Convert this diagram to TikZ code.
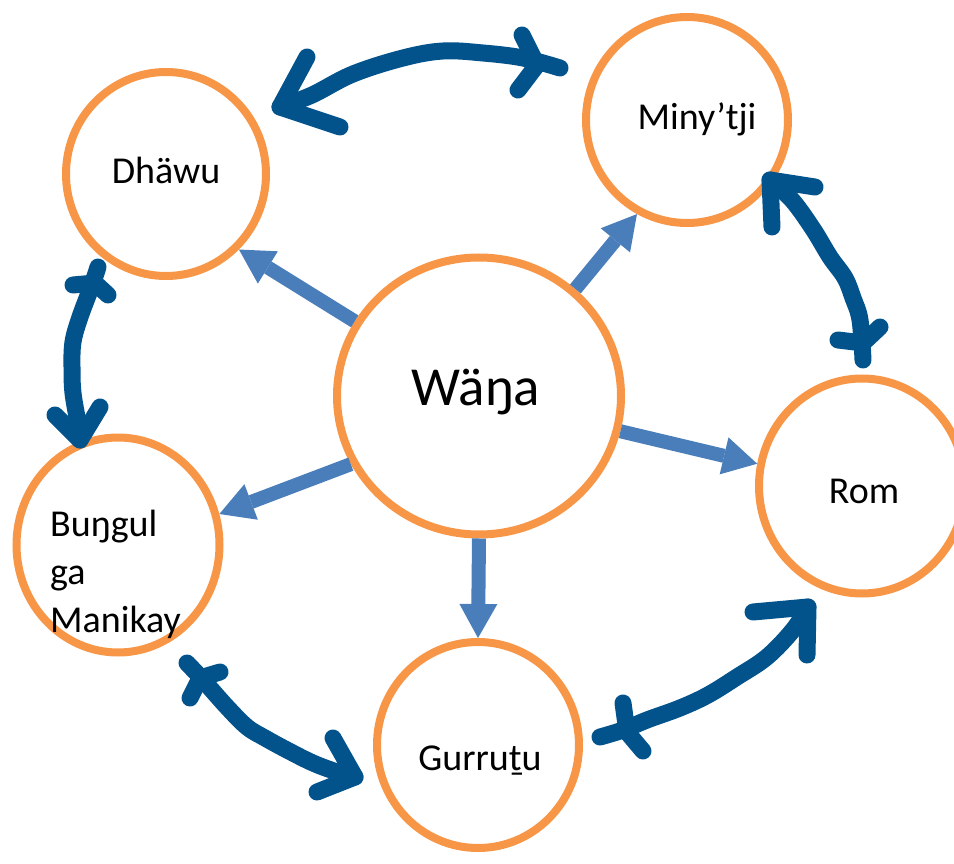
\documentclass[tikz,border=0pt]{standalone}
\usepackage{fontspec}
\setmainfont{Carlito}
\usetikzlibrary{arrows.meta,shapes.geometric}
\definecolor{ringorange}{RGB}{247,150,70}
\definecolor{linkblue}{RGB}{74,126,187}
\definecolor{inkblue}{RGB}{2,82,140}
\begin{document}
\begin{tikzpicture}[x=1pt,y=-1pt,
  ring/.style={ellipse, draw=ringorange, line width=8pt, inner sep=0pt},
  word/.style={font=\fontsize{38}{48}\selectfont, text=black, inner sep=0pt, anchor=base},
  spoke/.style={draw=linkblue, line width=14pt,
    -{Triangle[length=34pt,width=38pt,line width=0pt]}},
  hand/.style={draw=inkblue, line width=17pt, line cap=round, line join=round},
]
\useasboundingbox (0,0) rectangle (954,864);

% rings
\node[ring, minimum width=284pt, minimum height=277pt] (wana) at (479,396) {};
\node[ring, minimum width=200pt, minimum height=204pt] (dhawu) at (166,174) {};
\node[ring, minimum width=202pt, minimum height=206pt] (minytji) at (687,120) {};
\node[ring, minimum width=206pt, minimum height=215pt] (rom) at (862,486) {};
\node[ring, minimum width=203pt, minimum height=215pt] (bungul) at (118,545) {};
\node[ring, minimum width=202pt, minimum height=206pt] (gurrutu) at (478,745) {};

% labels
\node[word, font=\fontsize{55}{60}\selectfont] (wanaText) at (476,405) {Wäŋa};
\node[word] (dhawuText) at (166,184) {Dhäwu};
\node[word] (minytjiText) at (697,130) {Miny’tji};
\node[word] (romText) at (864,503) {Rom};
\node[word] (gurrutuText) at (480,770) {Gurruṯu};
\node[word, anchor=base west, align=left] (bungulText) at (50,632) {Buŋgul\\ga\\Manikay};

% spokes from the centre
\draw[spoke] (wana.149) -- (dhawu.-46);
\draw[spoke] (wana.48) -- (minytji.-118);
\draw[spoke] (wana.-14) -- (rom.168);
\draw[spoke] (wana.-90) -- (gurrutu.90);
\draw[spoke] (wana.208) -- (bungul.17);

% ends of the hand-drawn links
\coordinate (dmA) at (280,107);
\coordinate (dmB) at (560,68);
\coordinate (dmBj) at (537,65);
\coordinate (mrA) at (770,180);
\coordinate (mrB) at (863,360);
\coordinate (mrBj) at (863,343);
\coordinate (rgA) at (808,607);
\coordinate (rgB) at (600,737);
\coordinate (rgBj) at (627,732);
\coordinate (gbA) at (187,663);
\coordinate (gbAj) at (200,678);
\coordinate (gbB) at (355,777);
\coordinate (bdA) at (98,267);
\coordinate (bdAj) at (95,283);
\coordinate (bdB) at (80,440);

% Dhawu <-> Miny'tji
\draw[hand] plot[smooth, tension=0.6] coordinates {(dmA) (312,95) (353,74) (403,58) (443,51) (483,53) (523,58) (dmB)};
\draw[hand] (dmA) ++(27,-50) -- (dmA) -- ++(60,20);
\draw[hand] (dmBj) ++(-15,-30) -- (dmBj) -- ++(-19,25);

% Miny'tji <-> Rom
\draw[hand] plot[smooth, tension=0.6] coordinates {(mrA) (792,200) (813,229) (830,257) (845,278) (853,298) (860,320) (mrB)};
\draw[hand] (mrA) ++(45,7) -- (mrA) -- ++(2,47);
\draw[hand] (mrBj) ++(-25,-3) -- (mrBj) -- ++(17,-16);

% Rom <-> Gurrutu
\draw[hand] plot[smooth, tension=0.6] coordinates {(rgA) (793,630) (767,657) (737,677) (708,695) (680,708) (647,720) (623,730) (rgB)};
\draw[hand] (rgA) ++(-55,5) -- (rgA) -- ++(-1,48);
\draw[hand] (rgBj) ++(-4,-29) -- (rgBj) -- ++(16,19);

% Gurrutu <-> Bungul ga Manikay
\draw[hand] plot[smooth, tension=0.6] coordinates {(gbA) (203,680) (227,707) (247,727) (265,738) (287,750) (313,763) (337,772) (gbB)};
\draw[hand] (gbAj) ++(20,-6) -- (gbAj) -- ++(-10,20);
\draw[hand] (gbB) ++(-22,-39) -- (gbB) -- ++(-38,15);

% Bungul ga Manikay <-> Dhawu
\draw[hand] plot[smooth, tension=0.6] coordinates {(bdA) (92,285) (80,317) (73,342) (72,367) (73,393) (78,423) (bdB)};
\draw[hand] (bdAj) ++(-22,2) -- (bdAj) -- ++(13,12);
\draw[hand] (bdB) ++(-25,-25) -- (bdB) -- ++(20,-33);
\end{tikzpicture}
\end{document}
